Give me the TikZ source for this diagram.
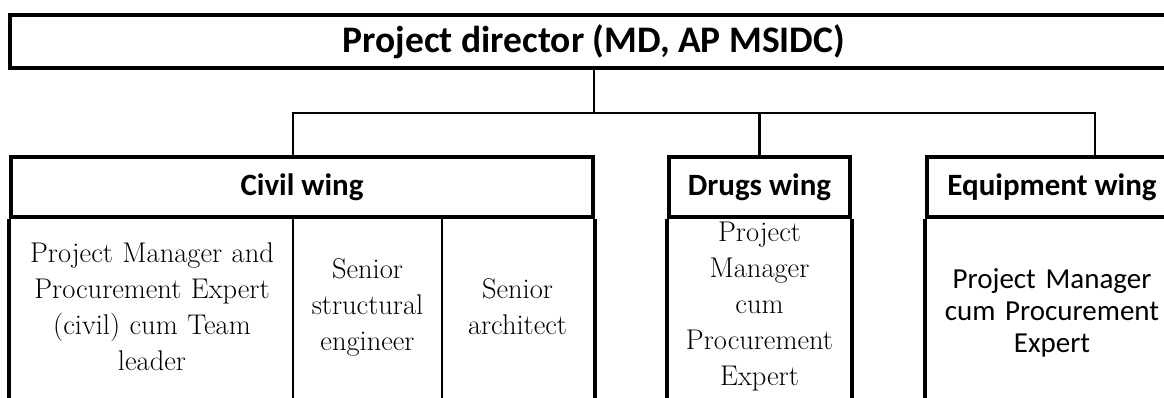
\documentclass[tikz,border=0pt]{standalone}
\usepackage{fontspec}
\newfontfamily\hdr{Carlito}
\begin{document}
\begin{tikzpicture}[x=1pt,y=-1pt,
  frame/.style={draw, line width=3.6pt},
  conn/.style={line width=2.4pt},
  divider/.style={line width=2.4pt},
  hdrtext/.style={font=\hdr\bfseries\fontsize{31}{36}\selectfont, inner sep=0pt},
  body/.style={font=\fontsize{28.5}{36}\selectfont, align=center, inner sep=0pt},
  sansbody/.style={font=\hdr\fontsize{29}{32}\selectfont, align=center, inner sep=0pt},
]
\useasboundingbox (0,0) rectangle (1164,397);
\clip (0,0) rectangle (1164,397);

\node[frame, minimum width=1168pt, minimum height=53pt, inner sep=0pt,
      font=\hdr\bfseries\fontsize{37.5}{40}\selectfont] (pd) at (594,41.5) {Project director (MD, AP MSIDC)};

\node[frame, hdrtext, minimum width=582pt, minimum height=60pt] (civilh) at (302,187) {Civil wing};
\node[frame, hdrtext, minimum width=181pt, minimum height=60pt] (drugsh) at (759.5,187) {Drugs wing};
\node[frame, hdrtext, minimum width=250pt, minimum height=60pt] (equiph) at (1052,187) {Equipment wing};

\node[body, text width=282pt] (c1) at (152,307) {Project Manager and\\Procurement Expert\\(civil) cum Team\\leader};
\node[body, text width=149pt] (c2) at (367.5,307) {Senior\\structural\\engineer};
\node[body, text width=151pt] (c3) at (517.5,307) {Senior\\architect};
\node[body, text width=181pt] (d1) at (759.5,307) {Project\\Manager\\cum\\Procurement\\Expert};
\node[sansbody, text width=250pt] (e1) at (1052,313) {Project Manager\\cum Procurement\\Expert};

\draw[frame] (civilh.south west) -- ++(0,250);
\draw[frame] (civilh.south east) -- ++(0,250);
\draw[divider] (c1.east |- civilh.south) -- ++(0,250);
\draw[divider] (c3.west |- civilh.south) -- ++(0,250);
\draw[frame] (drugsh.south west) -- ++(0,250);
\draw[frame] (drugsh.south east) -- ++(0,250);
\draw[frame] (equiph.south west) -- ++(0,250);
\draw[frame] (equiph.south east) -- ++(0,250);

\coordinate (bus) at (594,113);
\coordinate (eqtap) at ([xshift=43pt]equiph.north);
\draw[conn] (pd.south) -- (bus);
\draw[conn] (c1.east |- civilh.north) -- (c1.east |- bus) -- (eqtap |- bus) -- (eqtap);
\draw[conn] (drugsh.north) -- (drugsh.north |- bus);
\end{tikzpicture}
\end{document}
